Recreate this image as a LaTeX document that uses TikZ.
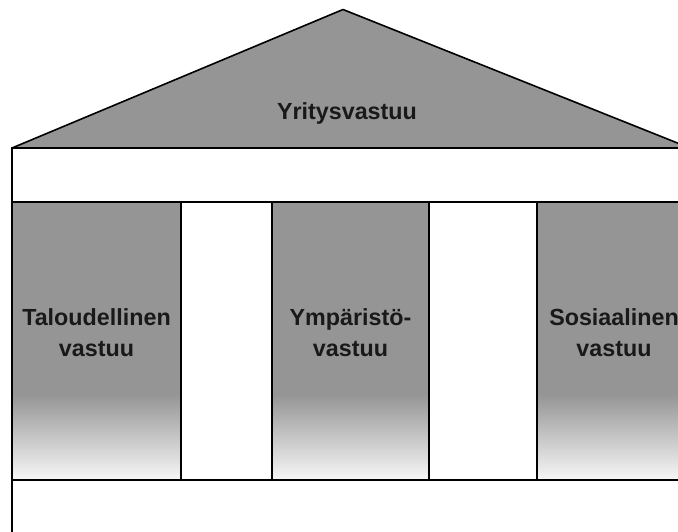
\documentclass[tikz,border=0pt]{standalone}
\usepackage{fontspec}
\setmainfont{Liberation Sans}
\definecolor{pillar}{RGB}{149,149,149}
\tikzset{
  edge/.style={draw=black, line width=1.6pt, line join=miter},
  label/.style={font=\bfseries\fontsize{23.3}{31}\selectfont, align=center, text=black!90},
}
\begin{document}
\begin{tikzpicture}[x=1pt,y=-1pt]
\useasboundingbox (0,0) rectangle (678,531);
\clip (0,0) rectangle (678,531);
% roof
\filldraw[edge, fill=pillar, line join=bevel] (12,148) -- (343,9.5) -- (690,148) -- cycle;
% beam
\filldraw[edge, fill=white] (12,148) rectangle (690,202);
% columns
\foreach \a/\b in {12/181, 272/429, 537/690}{
  \fill[pillar] (\a,202) rectangle (\b,395);
  \shade[top color=pillar, bottom color=white!97!black] (\a,394.5) rectangle (\b,480);
  \draw[edge] (\a,202) rectangle (\b,480);
}
% gaps
\foreach \a/\b in {181/272, 429/537}{
  \filldraw[edge, fill=white] (\a,202) rectangle (\b,480);
}
% base
\filldraw[edge, fill=white] (12,480) rectangle (690,560);
% labels
\node[label] (roof) at (347,113) {Yritysvastuu};
\node[label] (econ) at (96.5,333) {Taloudellinen\\vastuu};
\node[label] (env) at (350.5,333) {Ympäristö-\\vastuu};
\node[label] (soc) at (614,333) {Sosiaalinen\\vastuu};
\end{tikzpicture}
\end{document}
